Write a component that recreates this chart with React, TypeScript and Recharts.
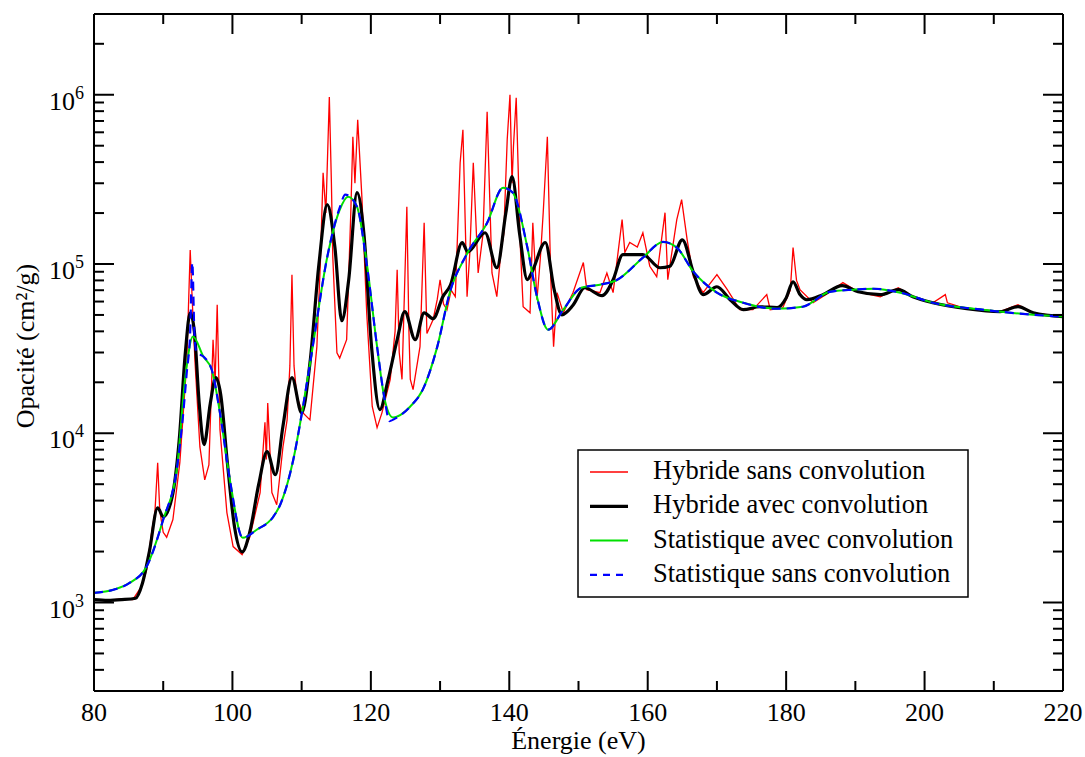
import { LineChart, Line, XAxis, YAxis } from "recharts";

const PLOT = { left: 94, right: 1063, top: 14, bottom: 691 };
const FONT = "Liberation Serif, Times New Roman, Times, DejaVu Serif, serif";

// Hybride sans convolution (rouge)
const energieHybrideSans = [
  80, 82, 84, 85.6, 86.9, 87.6, 88.4, 88.8, 89.2, 89.5, 90, 90.5, 91.4, 92.4, 93.4, 93.9, 94.2, 94.6,
  95.3, 96, 96.6, 97.2, 97.5, 97.8, 98.2, 99.2, 100.1, 101.4, 102.5, 104, 104.7, 104.9, 105.1, 105.7,
  106.4, 107.3, 107.9, 108.3, 108.6, 108.9, 109.3, 110.2, 111.2, 112.2, 112.7, 113.1, 113.5, 114,
  114.3, 114.5, 115.1, 115.5, 116.5, 117.1, 117.4, 117.7, 118.1, 118.7, 119.4, 120.2, 120.9, 121.6,
  122.8, 123.5, 123.8, 124.1, 124.5, 125.2, 125.5, 125.7, 126.1, 127.1, 127.7, 128.1, 129, 129.6,
  130, 130.5, 131, 131.6, 132.2, 132.9, 133.3, 133.9, 134.3, 134.8, 135.5, 136.2, 136.8, 137.5,
  138.2, 138.8, 139.2, 139.7, 140.1, 140.4, 140.6, 141, 141.6, 142, 143, 143.4, 144, 144.5, 144.9,
  145.5, 146, 146.4, 146.9, 147.8, 149.2, 150.7, 151.2, 153.1, 154.1, 155, 156.3, 156.7, 157.4,
  158.5, 159.3, 160.3, 161.3, 162.5, 162.9, 164.2, 164.9, 165.7, 166.6, 168, 170, 171.5, 173.3,
  175.2, 177.2, 177.7, 179.5, 180.6, 181, 181.5, 182, 183.9, 186, 188.2, 190.4, 193.6, 196.2, 198.3,
  201.2, 203, 203.3, 206.1, 210.9, 213.5, 215.7, 220,
];
const opaciteHybrideSans = [
  1040, 1030, 1050, 1040, 1250, 1560, 2720, 3400, 6700, 3500, 2600, 2430, 3090, 6700, 26100, 121000,
  60000, 26100, 8300, 5300, 6500, 35700, 20000, 57500, 10500, 3400, 2140, 1920, 2430, 4460, 11600,
  7000, 15100, 4460, 3780, 8300, 12000, 25000, 86500, 25000, 16400, 13200, 12000, 32500, 100000,
  346000, 200000, 970000, 300000, 110000, 29900, 27800, 35700, 200000, 565000, 300000, 711000,
  250000, 51500, 14400, 10800, 13200, 20800, 40000, 92600, 30000, 20800, 218000, 40000, 20800,
  18100, 32500, 175000, 38800, 47000, 62000, 80700, 58000, 53700, 70000, 64100, 396000, 621000,
  64100, 117000, 396000, 88500, 150000, 794000, 88500, 64100, 120000, 150000, 542000, 1000000,
  300000, 493000, 960000, 126000, 55900, 51500, 175000, 61500, 110000, 201000, 565000, 80700,
  32500, 67700, 51500, 67700, 102000, 70500, 67700, 88500, 67700, 183000, 117000, 134000, 126000,
  153000, 97000, 84100, 201000, 80700, 183000, 240000, 139000, 84100, 67700, 86500, 70500, 53700,
  53700, 65900, 53700, 55000, 70000, 125000, 80000, 70500, 59000, 67000, 77600, 68500, 64000,
  72400, 64100, 59000, 65900, 59000, 54400, 52300, 57500, 51500, 48900,
];

// Hybride avec convolution (noir)
const energieHybrideAvec = [
  80, 82, 84, 86, 87, 88, 89.2, 90, 91.3, 92.3, 93.2, 93.9, 94.5, 95.2, 95.9, 96.8, 97.6, 98.3, 99.3,
  100.3, 101.4, 102.5, 103.8, 105, 106.2, 107.3, 108.6, 110, 111.2, 112.5, 113.7, 114.8, 115.8, 116.8,
  118, 119, 120.1, 121.3, 122.5, 123.8, 124.9, 126.4, 127.7, 129, 130.4, 131.5, 133.2, 134, 136.5,
  138.2, 139.5, 140.4, 141.5, 142.6, 143.3, 145.2, 146.5, 147.6, 149.2, 150.9, 153.4, 155, 156.4,
  159.3, 161.8, 163.2, 165, 166.6, 168, 170, 171.9, 173.8, 176.2, 178.7, 180, 181, 182, 183, 185.3,
  188.1, 190.4, 193.6, 196.2, 198.3, 201.2, 206.1, 210.9, 213.5, 215.7, 220,
];
const opaciteHybrideAvec = [
  1040, 1030, 1040, 1060, 1300, 2000, 3630, 3210, 4220, 9000, 30000, 51500, 40000, 15000, 8570,
  15000, 21300, 17000, 6500, 2800, 1990, 2600, 5000, 7780, 5690, 11000, 21300, 13200, 26000,
  100000, 224000, 126000, 46200, 80700, 264000, 150000, 32500, 13800, 20800, 35700, 52300, 35700,
  51500, 47500, 64100, 75000, 134000, 118000, 153000, 95000, 200000, 328000, 150000, 80800, 90100,
  134000, 70000, 50100, 57000, 72400, 65000, 80700, 113500, 113500, 95000, 97000, 139000, 89000,
  65900, 73400, 61500, 53700, 55900, 55200, 63000, 78500, 66000, 61500, 65900, 74500, 68500, 65900,
  70500, 64100, 59000, 54400, 52300, 56000, 51500, 48900,
];

// Statistique avec convolution (vert)
const energieStatAvec = [
  80, 82.8, 85.2, 87.6, 90, 92, 93.2, 94.3, 95.8, 97, 98.2, 99.7, 101.5, 103.5, 105.9, 106.9, 108.8,
  110.2, 111.6, 113.7, 115.5, 116.7, 118, 119.4, 120.9, 122, 123.2, 125.7, 127.5, 129.6, 131.4, 133.9,
  136.8, 139.1, 140.5, 142.6, 144, 145.6, 147.8, 150.4, 153.1, 155.6, 159.3, 162.2, 164.2, 166.6, 170,
  173.8, 178.7, 182.4, 186.3, 189.7, 192.6, 196.5, 201.2, 208.4, 215.7, 220,
];
const opaciteStatAvec = [
  1140, 1190, 1310, 1630, 3090, 6300, 21600, 37300, 28400, 23800, 13200, 5100, 2410, 2690, 3210,
  3780, 7000, 14400, 32500, 110000, 209000, 250000, 218000, 102000, 32500, 15800, 12400, 14400,
  18100, 32500, 67700, 115000, 175000, 282000, 264000, 126000, 64100, 40900, 53700, 72400, 75500,
  80700, 109000, 135000, 125000, 90100, 67700, 59000, 54400, 55900, 68500, 70500, 71400, 67700,
  59000, 53700, 50100, 48900,
];

// Statistique sans convolution (bleu, tirets)
const energieStatSans = [
  80, 82.8, 85.2, 87.6, 90, 92, 92.8, 93.4, 93.9, 94.2, 94.5, 94.8, 95.8, 97, 98.2, 99.7, 101.5,
  103.5, 105.9, 106.9, 108.8, 110.2, 111.6, 113.7, 115.5, 116.3, 118, 119.4, 120.9, 122, 122.7,
  123.5, 125.7, 127.5, 129.6, 131.4, 133.9, 136.8, 139.1, 140.5, 142.6, 144, 145.6, 147.8, 150.4,
  153.1, 155.6, 159.3, 162.2, 164.2, 166.6, 170, 173.8, 178.7, 182.4, 186.3, 189.7, 192.6, 196.5,
  201.2, 208.4, 215.7, 220,
];
const opaciteStatSans = [
  1140, 1190, 1310, 1630, 3090, 6300, 12000, 22800, 40000, 102000, 40000, 30000, 28400, 23800,
  13200, 5100, 2410, 2690, 3210, 3780, 7000, 14400, 32500, 110000, 215000, 257000, 218000, 100000,
  32500, 15800, 11800, 12200, 14400, 18100, 32500, 67700, 115000, 175000, 282000, 264000, 126000,
  64100, 40900, 53700, 72400, 75500, 80700, 109000, 135000, 125000, 90100, 67700, 59000, 54400,
  55900, 68500, 70500, 71400, 67700, 59000, 53700, 50100, 48900,
];

const xTicks = [80, 90, 100, 110, 120, 130, 140, 150, 160, 170, 180, 190, 200, 210, 220];
const yTicks = [
  300, 400, 500, 600, 700, 800, 900, 1000, 2000, 3000, 4000, 5000, 6000, 7000, 8000, 9000, 10000,
  20000, 30000, 40000, 50000, 60000, 70000, 80000, 90000, 100000, 200000, 300000, 400000, 500000,
  600000, 700000, 800000, 900000, 1000000, 2000000, 3000000,
];

const series = [
  { name: "Hybride sans convolution", e: energieHybrideSans, o: opaciteHybrideSans, color: "#ff0000", width: 1.3, dash: undefined, type: "linear" },
  { name: "Hybride avec convolution", e: energieHybrideAvec, o: opaciteHybrideAvec, color: "#000000", width: 3.2, dash: undefined, type: "monotone" },
  { name: "Statistique avec convolution", e: energieStatAvec, o: opaciteStatAvec, color: "#00e000", width: 2, dash: undefined, type: "monotone" },
  { name: "Statistique sans convolution", e: energieStatSans, o: opaciteStatSans, color: "#0000ff", width: 2.2, dash: "9 6", type: "monotone" },
] as const;

const toRows = (e: readonly number[], o: readonly number[]) =>
  e.map((v, i) => ({ energie: v, opacite: o[i] }));

const decade = (v: number) => {
  const l = Math.log10(v);
  return Math.abs(l - Math.round(l)) < 1e-9 ? Math.round(l) : null;
};

const textStyle = { fontFamily: FONT, fill: "#000" };

function LeftTick(props: any) {
  const { y, payload } = props;
  const exp = decade(payload.value);
  const len = exp !== null ? 20 : 10;
  return (
    <g>
      <line x1={PLOT.left} x2={PLOT.left + len} y1={y} y2={y} stroke="#000" strokeWidth={2} />
      {exp !== null && (
        <text x={PLOT.left - 10} y={y + 15} textAnchor="end" style={{ ...textStyle, fontSize: 26 }}>
          10
          <tspan dy={-11} style={{ fontSize: 18 }}>
            {exp}
          </tspan>
        </text>
      )}
    </g>
  );
}

function RightTick(props: any) {
  const { y, payload } = props;
  const len = decade(payload.value) !== null ? 20 : 10;
  return <line x1={PLOT.right - len} x2={PLOT.right} y1={y} y2={y} stroke="#000" strokeWidth={2} />;
}

function BottomTick(props: any) {
  const { x, payload } = props;
  const major = payload.value % 20 === 0;
  const len = major ? 20 : 10;
  return (
    <g>
      <line x1={x} x2={x} y1={PLOT.bottom} y2={PLOT.bottom - len} stroke="#000" strokeWidth={2} />
      {major && (
        <text x={x} y={721} textAnchor="middle" style={{ ...textStyle, fontSize: 26 }}>
          {payload.value}
        </text>
      )}
    </g>
  );
}

function TopTick(props: any) {
  const { x, payload } = props;
  const len = payload.value % 20 === 0 ? 20 : 10;
  return <line x1={x} x2={x} y1={PLOT.top} y2={PLOT.top + len} stroke="#000" strokeWidth={2} />;
}

export default function App() {
  return (
    <div style={{ position: "absolute", left: 0, top: 0, width: 1085, height: 757, background: "#fff", fontFamily: FONT }}>
      <LineChart width={1085} height={757} margin={{ top: 0, right: 0, bottom: 0, left: 0 }}>
        <XAxis
          xAxisId="bottom"
          type="number"
          dataKey="energie"
          domain={[80, 220]}
          ticks={xTicks}
          interval={0}
          allowDataOverflow
          height={66}
          tickLine={false}
          axisLine={{ stroke: "#000", strokeWidth: 2 }}
          tick={(p: any) => <BottomTick {...p} />}
          label={{
            content: () => (
              <text x={(PLOT.left + PLOT.right) / 2} y={749} textAnchor="middle" style={{ ...textStyle, fontSize: 26 }}>
                Énergie (eV)
              </text>
            ),
          }}
        />
        <XAxis
          xAxisId="top"
          orientation="top"
          type="number"
          dataKey="energie"
          domain={[80, 220]}
          ticks={xTicks}
          interval={0}
          allowDataOverflow
          height={14}
          tickLine={false}
          axisLine={{ stroke: "#000", strokeWidth: 2 }}
          tick={(p: any) => <TopTick {...p} />}
        />
        <YAxis
          yAxisId="left"
          type="number"
          scale="log"
          domain={[300, 3000000]}
          ticks={yTicks}
          interval={0}
          allowDataOverflow
          width={94}
          tickLine={false}
          axisLine={{ stroke: "#000", strokeWidth: 2 }}
          tick={(p: any) => <LeftTick {...p} />}
          label={{
            content: () => (
              <text
                x={0}
                y={0}
                transform="translate(34, 346) rotate(-90)"
                textAnchor="middle"
                style={{ ...textStyle, fontSize: 26 }}
              >
                Opacité (cm²/g)
              </text>
            ),
          }}
        />
        <YAxis
          yAxisId="right"
          orientation="right"
          type="number"
          scale="log"
          domain={[300, 3000000]}
          ticks={yTicks}
          interval={0}
          allowDataOverflow
          width={22}
          tickLine={false}
          axisLine={{ stroke: "#000", strokeWidth: 2 }}
          tick={(p: any) => <RightTick {...p} />}
        />
        {series.map((s) => (
          <Line
            key={s.name}
            xAxisId="bottom"
            yAxisId="left"
            data={toRows(s.e, s.o)}
            dataKey="opacite"
            type={s.type}
            stroke={s.color}
            strokeWidth={s.width}
            strokeDasharray={s.dash}
            dot={false}
            activeDot={false}
            isAnimationActive={false}
          />
        ))}
      </LineChart>
      <svg width={392} height={149} style={{ position: "absolute", left: 577, top: 449 }}>
        <rect x={1} y={1} width={390} height={147} fill="#fff" stroke="#000" strokeWidth={1.5} />
        {series.map((s, i) => (
          <g key={s.name}>
            <line
              x1={13}
              x2={51}
              y1={23 + i * 34.3}
              y2={23 + i * 34.3}
              stroke={s.color}
              strokeWidth={s.width}
              strokeDasharray={s.dash ? "7 6" : undefined}
            />
            <text x={76} y={30 + i * 34.3} style={{ ...textStyle, fontSize: 26.5 }}>
              {s.name}
            </text>
          </g>
        ))}
      </svg>
    </div>
  );
}
